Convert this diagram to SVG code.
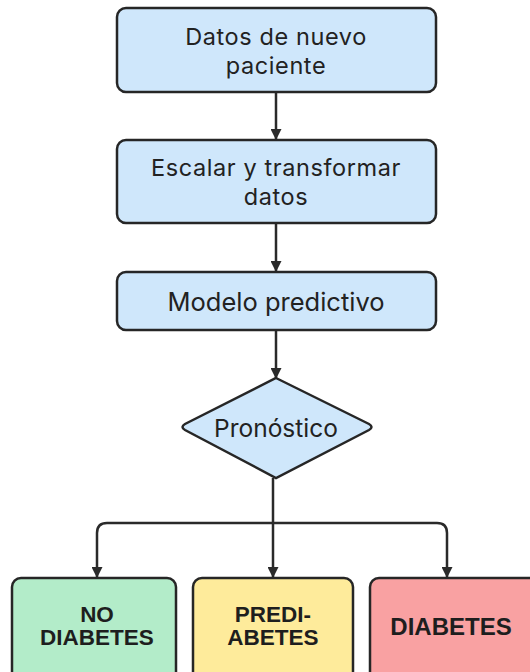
<svg xmlns="http://www.w3.org/2000/svg" width="530" height="672" viewBox="0 0 530 672">
<defs>
<marker id="ah" markerWidth="11" markerHeight="11" refX="10" refY="5.5" orient="auto" markerUnits="userSpaceOnUse" viewBox="0 0 11 11">
<path d="M0,0 L11,5.5 L0,11 Z" fill="#2a2a2a"/>
</marker>
<style>
.box{fill:#cfe7fb;stroke:#262626;stroke-width:2.5}
.t{font-family:Inter,"Noto Sans",sans-serif;font-size:23.5px;letter-spacing:0.6px;fill:#222;text-anchor:middle}
.s{font-size:25.5px;letter-spacing:0}
.b{font-family:"Liberation Sans",Arial,sans-serif;font-weight:bold;font-size:22.5px;fill:#1e1e1e;text-anchor:middle}
.c{fill:none;stroke:#2a2a2a;stroke-width:2.5}
</style>
</defs>
<rect width="530" height="672" fill="#ffffff"/>
<g id="connectors">
<line class="c" x1="276" y1="92" x2="276" y2="139" marker-end="url(#ah)"/>
<line class="c" x1="276" y1="223" x2="276" y2="271" marker-end="url(#ah)"/>
<line class="c" x1="276" y1="330" x2="276" y2="378" marker-end="url(#ah)"/>
<line class="c" x1="273" y1="478" x2="273" y2="577" marker-end="url(#ah)"/>
<path class="c" d="M273,523 H107 Q97,523 97,533 V577" marker-end="url(#ah)"/>
<path class="c" d="M273,523 H437 Q447,523 447,533 V577" marker-end="url(#ah)"/>
</g>
<g id="n1">
<rect class="box" x="117" y="8" width="319" height="84" rx="9"/>
<text class="t" x="276" y="45">Datos de nuevo</text>
<text class="t" x="276" y="74">paciente</text>
</g>
<g id="n2">
<rect class="box" x="117" y="140" width="319" height="83" rx="9"/>
<text class="t" x="276" y="176">Escalar y transformar</text>
<text class="t" x="276" y="205">datos</text>
</g>
<g id="n3">
<rect class="box" x="117" y="272" width="319" height="58" rx="9"/>
<text class="t s" x="276" y="311">Modelo predictivo</text>
</g>
<g id="n4">
<path class="box" d="M276,378 L369,424 Q374,427 369,430 L276,478 L185,430 Q180,427 185,424 Z"/>
<text class="t s" x="276" y="437" style="font-size:24.5px">Pronóstico</text>
</g>
<g id="n5">
<rect x="12" y="578" width="164" height="110" rx="9" fill="#b3ecc9" stroke="#262626" stroke-width="2.5"/>
<text class="b" x="97" y="622">NO</text>
<text class="b" x="97" y="645">DIABETES</text>
</g>
<g id="n6">
<rect x="193" y="578" width="160" height="110" rx="9" fill="#feeb9b" stroke="#262626" stroke-width="2.5"/>
<text class="b" x="273" y="622">PREDI-</text>
<text class="b" x="273" y="645">ABETES</text>
</g>
<g id="n7">
<rect x="370" y="578" width="170" height="110" rx="9" fill="#f9a1a2" stroke="#262626" stroke-width="2.5"/>
<text class="b" x="451" y="635" style="font-size:24px">DIABETES</text>
</g>
</svg>
